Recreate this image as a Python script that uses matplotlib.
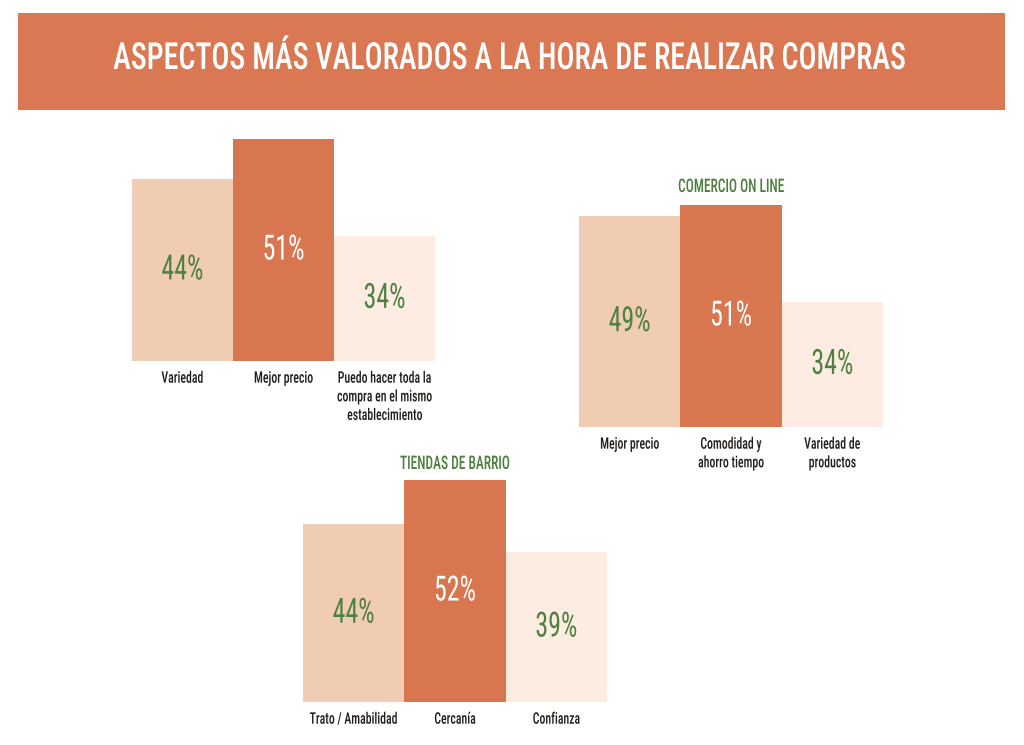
import matplotlib
matplotlib.use("Agg")
import matplotlib.pyplot as plt
from matplotlib import font_manager as fm
from matplotlib.patches import Rectangle
from matplotlib.patheffects import AbstractPathEffect
from matplotlib.transforms import Affine2D, Bbox
from matplotlib.text import Text

# ---------------- data ----------------
title = "ASPECTOS MÁS VALORADOS A LA HORA DE REALIZAR COMPRAS"

general_labels = ["Variedad", "Mejor precio", "Puedo hacer toda la\ncompra en el mismo\nestablecimiento"]
general_values = [44, 51, 34]

online_title = "COMERCIO ON LINE"
online_labels = ["Mejor precio", "Comodidad y\nahorro tiempo", "Variedad de\nproductos"]
online_values = [49, 51, 34]

barrio_title = "TIENDAS DE BARRIO"
barrio_labels = ["Trato / Amabilidad", "Cercanía", "Confianza"]
barrio_values = [44, 52, 39]

# ---------------- style ----------------
names = {f.name for f in fm.fontManager.ttflist}
FAMILY = "DejaVu Sans"
for cand in ["Roboto Condensed", "Liberation Sans Narrow", "Roboto"]:
    if cand in names:
        FAMILY = cand
        break


class Squeeze(AbstractPathEffect):
    """Condense glyphs horizontally around the centre of each text line."""

    def __init__(self, sx):
        super().__init__()
        self.sx = sx

    def draw_path(self, renderer, gc, tpath, affine, rgbFace=None):
        ext = affine.transform_path(tpath).get_extents()
        cx = (ext.x0 + ext.x1) / 2
        aff = affine + Affine2D().translate(-cx, 0).scale(self.sx, 1).translate(cx, 0)
        renderer.draw_path(gc, tpath, aff, rgbFace)


class SqText(Text):
    """Centred text drawn horizontally condensed; reports its condensed extent."""

    def __init__(self, *args, sx=1.0, **kwargs):
        super().__init__(*args, **kwargs)
        self.sx = sx
        self.set_path_effects([Squeeze(sx)])

    def get_window_extent(self, renderer=None, dpi=None):
        bb = super().get_window_extent(renderer, dpi)
        cx = (bb.x0 + bb.x1) / 2
        w = bb.width * self.sx
        return Bbox.from_extents(cx - w / 2, bb.y0, cx + w / 2, bb.y1)


ORANGE = "#D8774F"
LIGHT = "#F0CDB2"
LIGHTEST = "#FCECE1"
GREEN = "#4E8040"
DARK = "#231F1C"
bar_colors = [LIGHT, ORANGE, LIGHTEST]
value_colors = [GREEN, "white", GREEN]

W, H, DPI = 1024, 745, 100
fig = plt.figure(figsize=(W / DPI, H / DPI), dpi=DPI)
fig.patch.set_facecolor("white")
R = fig.canvas.get_renderer()


def width_of(sample, **kw):
    tmp = fig.text(0, 0, sample, family=FAMILY, **kw)
    w = tmp.get_window_extent(R).width
    tmp.remove()
    return w


PCT_FS, LAB_FS, SUB_FS = 25, 11.5, 13.5
# title: as large as possible while its natural width stays inside the figure
TITLE_FS = 33
w_t = width_of(title, fontsize=TITLE_FS, fontweight="medium")
if w_t > 990:
    TITLE_FS = TITLE_FS * 990 / w_t
    w_t = width_of(title, fontsize=TITLE_FS, fontweight="medium")
sq_title = min(1.0, 795 / w_t)
sq_pct = min(1.0, 42 / width_of("44%", fontsize=PCT_FS))
sq_lab = min(1.0, 42 / width_of("Variedad", fontsize=LAB_FS, fontweight="medium"))
sq_sub = min(1.0, 106 / width_of("COMERCIO ON LINE", fontsize=SUB_FS, fontweight="medium"))

# title banner
fig.add_artist(Rectangle((18 / W, 1 - 110 / H), (1005 - 18) / W, (110 - 13) / H,
                         transform=fig.transFigure, facecolor="#D97852", edgecolor="none"))
fig.add_artist(SqText(511 / W, 1 - 59 / H, title, sx=sq_title, transform=fig.transFigure,
                      ha="center", va="center", color="white",
                      fontsize=TITLE_FS, family=FAMILY, fontweight="medium"))

BASE = 12          # value at the baseline of each chart
MAXPX = 222        # pixel height of the tallest bar
AXH = 240          # axes height in pixels


def chart(x0, x1, ybase, labels, values, subtitle=None, sub_y=None):
    ax = fig.add_axes([x0 / W, 1 - ybase / H, (x1 - x0) / W, AXH / H])
    k = MAXPX / (max(values) - BASE)
    ax.set_ylim(BASE, BASE + AXH / k)
    ax.set_xlim(-0.5, len(values) - 0.5)
    xs = list(range(len(values)))
    ax.bar(xs, values, width=1.0, color=bar_colors, edgecolor="none")
    for x, v, c in zip(xs, values, value_colors):
        ax.add_artist(SqText(x, (BASE + v) / 2, f"{v}%", sx=sq_pct,
                             transform=ax.transData, ha="center", va="center",
                             color=c, fontsize=PCT_FS, family=FAMILY))
    ax.set_xticks(xs)
    ax.set_xticklabels(labels, fontsize=LAB_FS, color=DARK, linespacing=1.3,
                       family=FAMILY, fontweight="medium")
    for lab in ax.get_xticklabels():
        lab.set_path_effects([Squeeze(sq_lab)])
    ax.tick_params(axis="x", length=0, pad=7)
    ax.set_yticks([])
    for s in ax.spines.values():
        s.set_visible(False)
    ax.patch.set_alpha(0)
    if subtitle:
        fig.add_artist(SqText((x0 + x1) / 2 / W, 1 - sub_y / H, subtitle, sx=sq_sub,
                              transform=fig.transFigure, ha="center", va="center",
                              color=GREEN, fontsize=SUB_FS, family=FAMILY,
                              fontweight="medium"))
    return ax


chart(132, 435, 361, general_labels, general_values)
chart(579, 883, 427, online_labels, online_values, online_title, 187)
chart(303, 607, 702, barrio_labels, barrio_values, barrio_title, 464)

fig.savefig("out.png", dpi=DPI, facecolor="white")
